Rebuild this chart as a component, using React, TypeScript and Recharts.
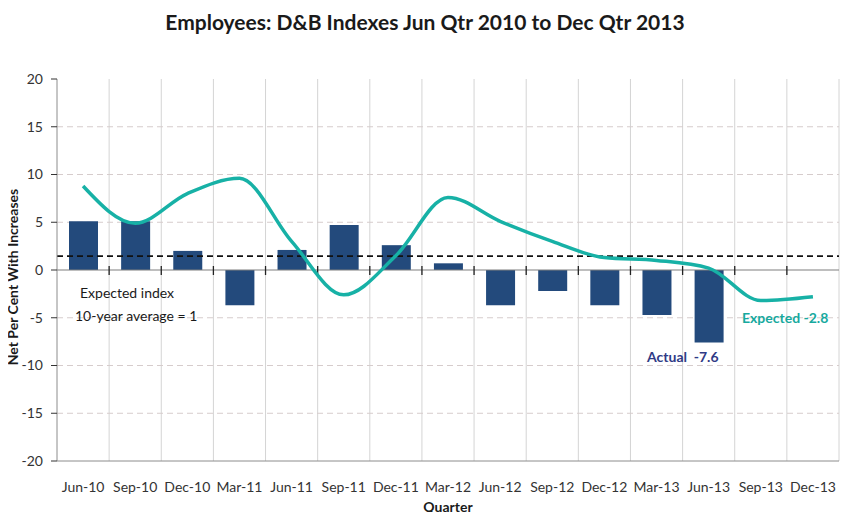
import React from 'react'
import {
  ComposedChart,
  Bar,
  Line,
  XAxis,
  YAxis,
  CartesianGrid,
  ReferenceLine,
} from 'recharts'

const quarters = [
  'Jun-10', 'Sep-10', 'Dec-10', 'Mar-11', 'Jun-11', 'Sep-11', 'Dec-11', 'Mar-12',
  'Jun-12', 'Sep-12', 'Dec-12', 'Mar-13', 'Jun-13', 'Sep-13', 'Dec-13',
]
const actual = [5.1, 5.1, 2.0, -3.7, 2.1, 4.7, 2.6, 0.7, -3.7, -2.2, -3.7, -4.7, -7.6, null, null]
const expected = [8.8, 4.9, 8.0, 9.6, 3.0, -2.6, 1.5, 7.6, 5.1, 3.0, 1.3, 1.0, 0.2, -3.2, -2.8]
const yTicks = [-20, -15, -10, -5, 0, 5, 10, 15, 20]
const gridValues = [-15, -10, -5, 5, 10, 15]
const tenYearAverage = 1.45

const data = quarters.map((q, i) => ({ quarter: q, actual: actual[i], expected: expected[i] }))

const FONT = 'Lato, "Open Sans", sans-serif'
const W = 850
const H = 520
const MARGIN = { top: 79, right: 11, bottom: 0, left: 0 }

// vertical grid lines sit between categories, not on them
function boundaryLines({ offset }: any) {
  const n = quarters.length
  const out: number[] = []
  for (let i = 1; i <= n; i++) out.push(offset.left + (offset.width * i) / n)
  return out
}

// zero line with small tick marks at each category boundary
function ZeroLine(props: any) {
  const { x1, x2, y1 } = props
  const n = quarters.length
  const step = (x2 - x1) / n
  const ticks = []
  for (let i = 1; i < n; i++) {
    const x = x1 + step * i
    ticks.push(<line key={i} x1={x} x2={x} y1={y1 - 4} y2={y1 + 5} stroke="#222" strokeWidth={1.3} />)
  }
  return (
    <g>
      <line x1={x1} x2={x2} y1={y1} y2={y1} stroke="#7f7f7f" strokeWidth={1.2} />
      {ticks}
    </g>
  )
}

const note = (style: React.CSSProperties): React.CSSProperties => ({
  position: 'absolute',
  fontFamily: FONT,
  fontSize: 14,
  lineHeight: '16px',
  whiteSpace: 'nowrap',
  ...style,
})

export default function App() {
  return (
    <div style={{ position: 'relative', width: W, height: H, margin: -8, background: '#fff' }}>
      <div
        style={{
          position: 'absolute',
          top: 9,
          left: 0,
          width: W,
          textAlign: 'center',
          fontFamily: FONT,
          fontWeight: 'bold',
          fontSize: 21,
          color: '#1a1a1a',
        }}
      >
        Employees: D&amp;B Indexes Jun Qtr 2010 to Dec Qtr 2013
      </div>

      <ComposedChart width={W} height={H} data={data} margin={MARGIN} barSize={29}>
        <CartesianGrid
          horizontal={false}
          stroke="#d4d4d4"
          verticalCoordinatesGenerator={boundaryLines}
        />
        <CartesianGrid
          vertical={false}
          stroke="#d6cccc"
          strokeDasharray="6 4"
          horizontalValues={gridValues}
        />
        <XAxis
          dataKey="quarter"
          height={59}
          tickSize={0}
          tickMargin={21}
          axisLine={{ stroke: '#8c8c8c' }}
          interval={0}
          tick={{ fontFamily: FONT, fontSize: 14, fill: '#333' }}
        />
        <YAxis
          width={57}
          domain={[-20, 20]}
          ticks={yTicks}
          interval={0}
          tickSize={6}
          tickMargin={8}
          axisLine={{ stroke: '#8c8c8c' }}
          tickLine={{ stroke: '#333' }}
          tick={{ fontFamily: FONT, fontSize: 14, fill: '#333' }}
        />
        <Bar dataKey="actual" fill="#234a7c" isAnimationActive={false} />
        <ReferenceLine y={0} shape={ZeroLine} />
        <ReferenceLine y={tenYearAverage} stroke="#111" strokeWidth={1.6} strokeDasharray="6 4" />
        <Line
          dataKey="expected"
          type="monotone"
          stroke="#17b1a6"
          strokeWidth={3.5}
          dot={false}
          activeDot={false}
          isAnimationActive={false}
        />
      </ComposedChart>

      <div
        style={note({
          left: 13,
          top: 277,
          fontWeight: 'bold',
          color: '#1a1a1a',
          transform: 'translate(-50%, -50%) rotate(-90deg)',
        })}
      >
        Net Per Cent With Increases
      </div>
      <div style={note({ left: 0, width: 896, top: 499, textAlign: 'center', fontWeight: 'bold', color: '#1a1a1a' })}>
        Quarter
      </div>

      <div style={note({ left: 80, top: 285, color: '#1a1a1a' })}>Expected index</div>
      <div style={note({ left: 75, top: 308, color: '#1a1a1a' })}>10-year average = 1</div>
      <div style={note({ left: 647, top: 349, color: '#2f3a86', fontWeight: 'bold' })}>
        Actual&nbsp;&nbsp;-7.6
      </div>
      <div style={note({ left: 742, top: 310, color: '#17a99e', fontWeight: 'bold' })}>Expected -2.8</div>
    </div>
  )
}
